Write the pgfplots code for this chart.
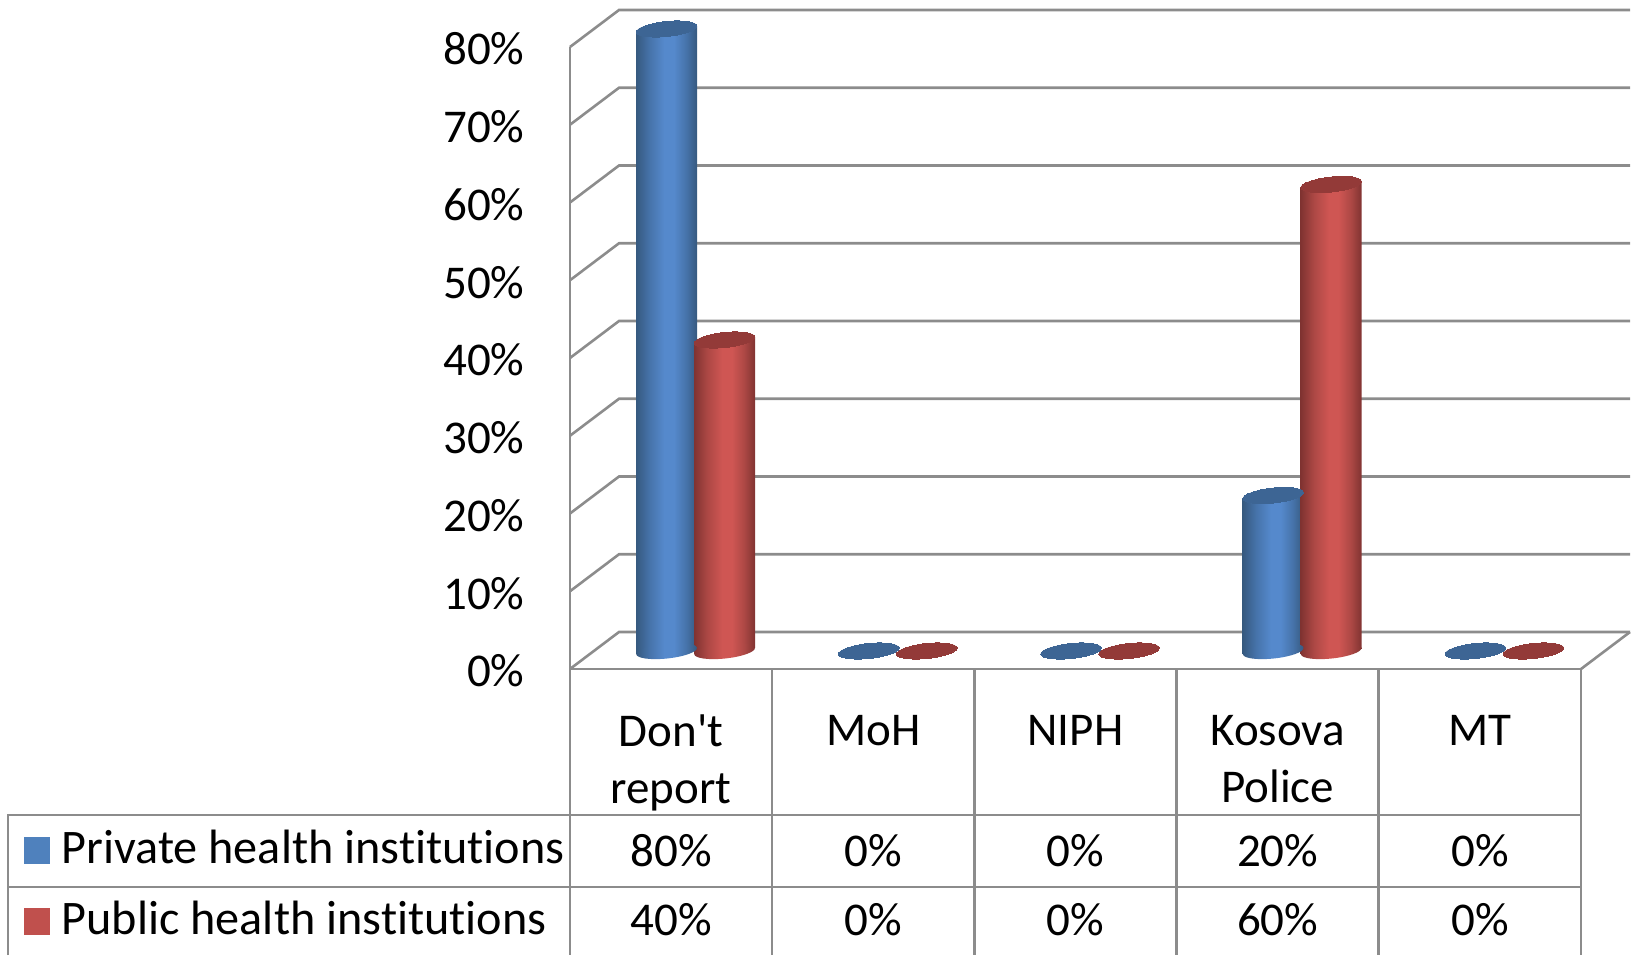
\documentclass[border=0pt]{standalone}
\usepackage{fontspec}
\setmainfont{Carlito}[Ligatures=NoCommon]
\usepackage{pgfplots}
\usepackage{pgfplotstable}
\pgfplotsset{compat=1.18}
\usetikzlibrary{shapes.geometric}

% 1 px of the reference = 0.5pt here
\definecolor{wall}{HTML}{8C8C8C}
\definecolor{blueTop}{HTML}{3D6594}
\definecolor{redTop}{HTML}{933A38}
\definecolor{blueKey}{HTML}{4F81BD}
\definecolor{redKey}{HTML}{C0504D}
\definecolor{blueD}{HTML}{36597F}
\definecolor{blueM}{HTML}{4673AA}
\definecolor{blueL}{HTML}{5589CC}
\definecolor{redD}{HTML}{803331}
\definecolor{redM}{HTML}{AD4845}
\definecolor{redL}{HTML}{CF5653}
\pgfdeclarehorizontalshading{cylblue}{100bp}{color(0bp)=(blueD); color(25bp)=(blueD); color(36bp)=(blueM); color(48bp)=(blueL); color(56bp)=(blueL); color(66bp)=(blueM); color(75bp)=(blueD); color(100bp)=(blueD)}
\pgfdeclarehorizontalshading{cylred}{100bp}{color(0bp)=(redD); color(25bp)=(redD); color(36bp)=(redM); color(48bp)=(redL); color(56bp)=(redL); color(66bp)=(redM); color(75bp)=(redD); color(100bp)=(redD)}

\newcommand\lab{\fontsize{23.5}{28.5}\selectfont}

% rowa, rowb: heights of the two data table rows under the chart
\pgfplotstableread{
x private public rowa rowb
0 80 40 -23.3 -32.2
1 0 0 -23.3 -32.2
2 0 0 -23.3 -32.2
3 20 60 -23.3 -32.2
4 0 0 -23.3 -32.2
}\data

\pgfplotsset{
  blueser/.style={xshift=-2.25pt, yshift=9pt},
  redser/.style={xshift=26.75pt, yshift=9pt},
  % body of a cylinder: slanted so that its ends follow the tilted ellipses
  cyl/.style 2 args={ybar, bar width=30.5pt, bar shift=0pt, draw=none, shading=#1, forget plot,
    yslant=.105, yshift=-.105*(50.55pt+101.1pt*#2), restrict x to domain=#2:#2},
  base/.style={draw=none, mark=none, forget plot,
    nodes near coords={\relax},
    every node near coord/.append style={shape=ellipse, draw=none, shading=#1,
      minimum width=30.5pt, minimum height=7.5pt, inner sep=0pt, anchor=center, rotate=6}},
  top/.style={only marks, mark=*, mark size=15.25pt, forget plot,
    mark options={rotate=6, yscale=.245, draw=#1, line width=0pt, fill=#1}},
  cell/.style={draw=none, mark=none, forget plot, point meta=explicit,
    nodes near coords={\pgfmathprintnumber{\pgfplotspointmeta}\%},
    every node near coord/.append style={anchor=center, font=\lab, inner sep=0pt}},
  swatch/.style={legend image code/.code={\fill[##1] (2pt,-5pt) rectangle (14.5pt,8pt);}},
}

\begin{document}
\begin{tikzpicture}
\useasboundingbox (-285pt,-143pt) rectangle (533pt,334.5pt);
\begin{axis}[
    at={(0pt,0pt)}, anchor=south west,
    scale only axis,
    width=505.5pt, height=311pt,
    xmin=-0.5, xmax=4.5,
    ymin=0, ymax=80,
    clip=false,
    axis line style={draw=none},
    tick style={draw=none},
    major tick length=0pt,
    /pgf/number format/assume math mode=true,
    xtick={0,1,2,3,4},
    xticklabels={Don\textquotesingle t\\report, MoH\\~, NIPH\\~, Kosova\\Police, MT\\~},
    xticklabel style={font=\lab, align=center, anchor=north, yshift=-19.5pt},
    ytick={0,10,...,80},
    yticklabel={\pgfmathprintnumber{\tick}\%},
    yticklabel style={font=\lab, anchor=east, xshift=-19.2pt, yshift=-1pt},
    legend cell align=left,
    legend style={at={(axis cs:-3.279,-18.78)}, anchor=north west, xshift=2pt, draw=none, fill=none,
      font=\fontsize{24.1}{28.5}\selectfont, row sep=13.5pt, inner xsep=6pt, inner ysep=8pt,
      nodes={text height=16pt, text depth=6pt, inner xsep=5.7pt, inner ysep=0pt}},
]
% back wall, side wall and floor
\pgfplotsinvokeforeach{0,10,...,80}{
  \draw[wall, line width=1.3pt] (axis cs:-0.5,#1) -- ++(24.5pt,18.5pt) -- ++(505.5pt,0pt);
}
\draw[wall, line width=1.3pt] (axis cs:4.5,0) -- ++(24.5pt,18.5pt);
\draw[wall, line width=1.3pt] (axis cs:-0.5,80) -- (axis cs:-0.5,-36.8);
% data table grid
\draw[wall, line width=1.3pt] (axis cs:-0.5,0) -- (axis cs:4.5,0) -- (axis cs:4.5,-36.8);
\pgfplotsinvokeforeach{0.5,1.5,2.5,3.5}{
  \draw[wall, line width=1.3pt] (axis cs:#1,0) -- (axis cs:#1,-36.8);
}
\draw[wall, line width=1.3pt] (axis cs:-3.279,-36.8) -- (axis cs:-3.279,-18.78) -- (axis cs:4.5,-18.78);
\draw[wall, line width=1.3pt] (axis cs:-3.279,-28.04) -- (axis cs:4.5,-28.04);

% private
\addplot[blueser, base=cylblue] coordinates {(0,0) (3,0)};
\pgfplotsinvokeforeach{0,3}{
  \addplot[blueser, cyl={cylblue}{#1}] table[x=x, y=private] {\data};
}
\addplot[blueser, top=blueTop] table[x=x, y=private] {\data};
% public
\addplot[redser, base=cylred] coordinates {(0,0) (3,0)};
\pgfplotsinvokeforeach{0,3}{
  \addplot[redser, cyl={cylred}{#1}] table[x=x, y=public] {\data};
}
\addplot[redser, top=redTop] table[x=x, y=public] {\data};

% values in the table
\addplot[cell] table[x=x, y=rowa, meta=private] {\data};
\addplot[cell] table[x=x, y=rowb, meta=public] {\data};

\addlegendimage{swatch, blueKey}
\addlegendentry{Private health institutions}
\addlegendimage{swatch, redKey}
\addlegendentry{Public health institutions}
\end{axis}
\end{tikzpicture}
\end{document}
